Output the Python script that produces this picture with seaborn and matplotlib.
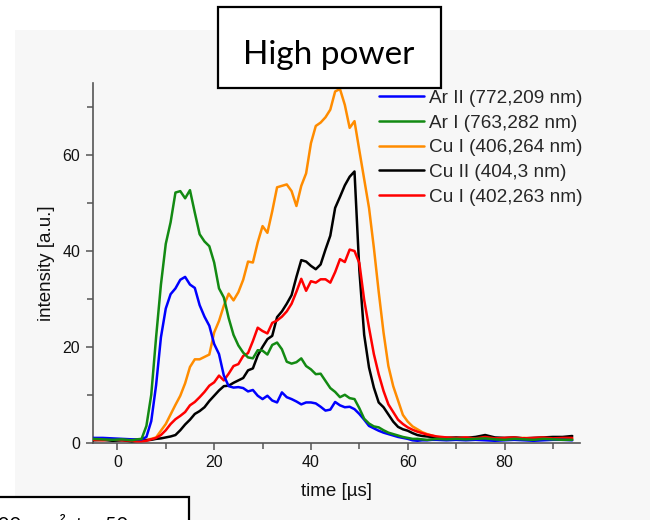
import matplotlib
matplotlib.use("Agg")
import matplotlib.pyplot as plt
from matplotlib.patches import Rectangle
from matplotlib.ticker import MultipleLocator
import numpy as np
import pandas as pd
import seaborn as sns

# ---------------- data ----------------
time_us = [-5, -3, -1, 1, 3,
           4, 5, 6, 7, 8, 9,
           10, 11, 12, 13, 14, 15, 16, 17, 18, 19,
           20, 21, 22, 23, 24, 25, 26, 27, 28, 29,
           30, 31, 32, 33, 34, 35, 36, 37, 38, 39,
           40, 41, 42, 43, 44, 45, 46, 47, 48, 49,
           50, 51, 52, 53, 54, 55, 56, 57, 58, 59,
           60, 61, 62, 63, 64, 65, 66,
           68, 70, 72, 74, 76, 78, 80, 82, 84, 86, 88, 90, 92, 94]

ar2_772 = [1.0, 1.0, 0.9, 0.8, 0.7,
           0.7, 0.7, 1.2, 4.5, 12.0, 22.0,
           28.0, 31.0, 32.2, 34.0, 34.6, 33.0, 32.3, 28.7, 26.3, 24.4,
           20.6, 18.5, 14.0, 11.8, 11.5, 11.6, 11.4, 10.7, 11.0, 9.8,
           9.1, 9.8, 8.8, 8.4, 10.5, 9.5, 9.1, 8.6, 8.0, 8.4,
           8.4, 8.2, 7.5, 6.7, 6.9, 8.5, 7.8, 7.4, 7.5, 7.0,
           6.0, 4.8, 3.5, 3.0, 2.5, 2.1, 1.8, 1.5, 1.2, 1.0,
           0.8, 0.5, 0.4, 0.5, 0.5, 0.6, 0.6,
           0.5, 0.6, 0.5, 0.6, 0.5, 0.4, 0.5, 0.6, 0.5, 0.4, 0.5, 0.6, 0.6, 0.5]

ar1_763 = [0.8, 0.7, 0.6, 0.7, 0.5,
           0.7, 0.8, 3.5, 10.0, 22.0, 33.0,
           41.5, 46.0, 52.2, 52.5, 51.0, 52.7, 48.0, 43.5, 42.0, 41.0,
           37.6, 32.2, 30.3, 26.0, 22.5, 20.3, 18.8, 17.8, 17.6, 19.3,
           19.2, 18.4, 20.4, 20.9, 19.5, 16.9, 16.5, 16.8, 17.6, 16.0,
           15.3, 14.3, 14.4, 12.9, 11.4, 10.6, 9.5, 10.0, 9.3, 9.1,
           7.2, 5.0, 4.0, 3.4, 3.2, 2.6, 2.1, 1.8, 1.5, 1.2,
           1.0, 0.8, 0.8, 0.7, 0.6, 0.7, 0.8,
           0.7, 0.8, 0.7, 0.8, 0.9, 0.7, 0.6, 0.8, 0.7, 0.6, 0.8, 0.7, 0.6, 0.6]

cu1_406 = [0.8, 0.7, 0.6, 0.7, 0.6,
           0.5, 0.5, 0.6, 0.8, 1.1, 2.5,
           3.9, 5.9, 7.9, 9.8, 12.4, 15.8, 17.4, 17.4, 17.9, 18.4,
           23.0, 25.4, 28.6, 31.1, 29.7, 31.4, 34.0, 37.8, 37.6, 41.8,
           45.2, 43.8, 48.3, 53.3, 53.6, 53.9, 52.5, 49.4, 53.6, 56.2,
           62.5, 66.1, 66.8, 67.9, 69.5, 73.3, 73.8, 70.5, 65.7, 67.1,
           61.0, 55.0, 49.0, 40.7, 31.5, 23.0, 16.0, 11.8, 8.8, 5.8,
           4.4, 3.4, 2.8, 2.2, 1.8, 1.5, 1.2,
           1.0, 0.9, 1.0, 0.8, 0.9, 0.8, 0.9, 0.8, 1.0, 0.9, 0.8, 0.9, 0.8, 0.8]

cu2_404 = [0.5, 0.6, 0.4, 0.5, 0.3,
           0.4, 0.4, 0.5, 0.6, 0.8, 0.9,
           1.1, 1.3, 1.6, 2.6, 3.8, 4.8, 6.0, 6.6, 7.4, 8.7,
           9.8, 10.9, 11.8, 11.9, 12.5, 13.0, 13.5, 15.1, 15.5, 18.2,
           20.0, 21.6, 22.3, 26.2, 27.4, 29.0, 30.8, 34.6, 38.1, 37.8,
           36.9, 36.2, 37.2, 40.3, 43.2, 49.0, 51.3, 53.7, 55.5, 56.6,
           36.0, 22.5, 15.7, 11.5, 8.4, 7.4, 5.9, 4.4, 3.3, 2.8,
           2.5, 2.0, 1.6, 1.4, 1.3, 1.2, 1.1,
           1.0, 1.1, 1.0, 1.2, 1.6, 1.1, 1.0, 1.1, 0.9, 1.0, 1.1, 1.2, 1.2, 1.4]

cu1_402 = [0.6, 0.5, 0.7, 0.5, 0.4,
           0.3, 0.3, 0.4, 0.7, 1.0, 1.6,
           2.6, 3.9, 4.9, 5.6, 6.4, 7.8, 8.5, 9.5, 10.6, 11.9,
           12.6, 14.0, 13.0, 14.4, 16.0, 16.4, 18.1, 18.7, 21.2, 24.0,
           23.3, 22.8, 25.0, 25.5, 26.3, 27.4, 29.0, 31.5, 34.2, 31.7,
           33.7, 33.4, 34.1, 34.1, 33.4, 35.6, 38.3, 37.7, 40.3, 40.0,
           37.5, 29.8, 24.0, 18.5, 14.3, 10.8, 8.0, 6.4, 4.8, 3.9,
           3.2, 2.7, 2.3, 2.0, 1.7, 1.5, 1.3,
           1.1, 1.0, 1.1, 0.9, 1.2, 0.9, 1.0, 1.1, 0.9, 1.0, 1.1, 0.9, 1.0, 1.0]

series_labels = ["Ar II (772,209 nm)", "Ar I (763,282 nm)", "Cu I (406,264 nm)",
                 "Cu II (404,3 nm)", "Cu I (402,263 nm)"]
series_values = [ar2_772, ar1_763, cu1_406, cu2_404, cu1_402]
series_colors = ["#0000ff", "#138a13", "#ff8c00", "#000000", "#ff0000"]
series_z = [5, 6, 2, 3, 4]

title_text = "High power"
x_label = "time [µs]"
y_label = "intensity [a.u.]"
bottom_text = "200 mm², t = 50 µs"

# ---------------- figure ----------------
sns.set_theme(style="ticks")
plt.rcParams["font.family"] = ["Liberation Sans", "DejaVu Sans"]

W, H = 650, 520
fig = plt.figure(figsize=(6.5, 5.2), dpi=100)
fig.patch.set_facecolor("white")
fig.patches.append(Rectangle((15 / W, 0), 1, 1 - 30 / H, transform=fig.transFigure,
                             facecolor="#f7f7f7", edgecolor="none", zorder=-10))

ax = fig.add_axes([92.7 / W, 1 - 442.7 / H, (580 - 92.7) / W, (442.7 - 83.3) / H])
ax.set_facecolor("none")
ax.set_zorder(1)

frames = []
for lab, vals in zip(series_labels, series_values):
    frames.append(pd.DataFrame({"time": time_us, "intensity": vals, "series": lab}))
df = pd.concat(frames, ignore_index=True)

handles = []
for lab, col, z in zip(series_labels, series_colors, series_z):
    sub = df[df["series"] == lab]
    sns.lineplot(data=sub, x="time", y="intensity", color=col, lw=1.8, ax=ax,
                 zorder=z, label=lab, legend=False)
    handles.append(ax.lines[-1])

ax.set_xlim(-5.1, 95.6)
ax.set_ylim(0, 75)
ax.xaxis.set_major_locator(MultipleLocator(20))
ax.xaxis.set_minor_locator(MultipleLocator(10))
ax.yaxis.set_major_locator(MultipleLocator(20))
ax.yaxis.set_minor_locator(MultipleLocator(10))
for s in ["top", "right"]:
    ax.spines[s].set_visible(False)
for s in ["left", "bottom"]:
    ax.spines[s].set_color("#555555")
    ax.spines[s].set_linewidth(1.2)
ax.tick_params(which="major", direction="out", length=5, width=1.1, color="#555555",
               labelsize=11.5, labelcolor="#111111", pad=4)
ax.tick_params(which="minor", direction="out", length=4, width=1.1, color="#555555")

ax.set_xlabel(x_label, fontsize=13.5, color="#111111", labelpad=9)
ax.set_ylabel(y_label, fontsize=13.5, color="#111111", labelpad=5)

ax.legend(handles, series_labels, loc="upper left",
          bbox_to_anchor=(369 / W, 1 - 80 / H), bbox_transform=fig.transFigure,
          frameon=False, borderpad=0, handlelength=2.4, handletextpad=0.25,
          labelspacing=0.39, fontsize=13.7)

# title box
fig.patches.append(Rectangle((218 / W, 1 - 88 / H), 223 / W, 81 / H, transform=fig.transFigure,
                             facecolor="white", edgecolor="black", lw=1.6, zorder=3))
fig.text(329 / W, 1 - 64 / H, title_text, ha="center", va="baseline", fontsize=24,
         family=["Lato", "DejaVu Sans"], color="black", zorder=4)

# bottom-left (cut off) box
fig.patches.append(Rectangle((-5 / W, -40 / H), 194 / W, (40 + 23) / H, transform=fig.transFigure,
                             facecolor="white", edgecolor="black", lw=1.6, zorder=3))
fig.text(-14 / W, 1 - 531 / H, bottom_text, ha="left", va="baseline", fontsize=14.5,
         family=["Lato", "DejaVu Sans"], color="black", zorder=4)

fig.savefig("out.png", dpi=100)
